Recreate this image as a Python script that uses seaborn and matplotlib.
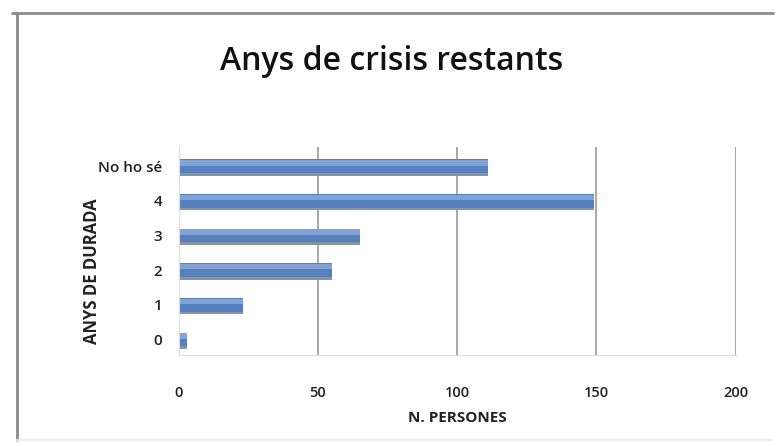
import matplotlib
matplotlib.use("Agg")
import matplotlib.pyplot as plt
import seaborn as sns
import pandas as pd

categories = ["No ho sé", "4", "3", "2", "1", "0"]
persons = [111, 149, 65, 55, 23, 3]
xticks = [0, 50, 100, 150, 200]

sns.set_style("white")
plt.rcParams['font.family'] = ['Open Sans', 'DejaVu Sans']

df = pd.DataFrame({"anys": categories, "persones": persons})

fig = plt.figure(figsize=(7.81, 4.46), dpi=100)
ax = fig.add_axes([0.229, 0.204, 0.713, 0.466])

# layers to fake the shaded excel bars: shadow, body, highlight
layers = [("#8a929c", 0.44, 0.05), ("#5580bd", 0.40, 0.0), ("#7fa3d6", 0.16, -0.10)]
n = 0
for col, w, dy in layers:
    sns.barplot(data=df, x="persones", y="anys", order=categories, orient="h",
                color=col, width=w, ax=ax, saturation=1)
    for p in ax.patches[n:]:
        p.set_y(p.get_y() + dy)
        p.set_edgecolor("none")
    n = len(ax.patches)

ax.set_xlim(0, 200)
ax.set_ylim(5.45, -0.55)
ax.set_xticks(xticks)
ax.set_xticklabels([str(t) for t in xticks])
ax.xaxis.grid(True, color="#a0a0a0", linewidth=1.3)
ax.set_axisbelow(True)
for s in ["top", "right"]:
    ax.spines[s].set_visible(False)
ax.spines["left"].set_color("#dddddd")
ax.spines["bottom"].set_color("#dddddd")
ax.tick_params(axis="y", length=0, labelsize=11, colors="#222222", pad=12)
ax.tick_params(axis="x", length=0, labelsize=10.5, colors="#222222", pad=22)
for lbl in ax.get_xticklabels() + ax.get_yticklabels():
    lbl.set_fontweight("semibold")

ax.set_xlabel("N. PERSONES", fontsize=11, fontweight="bold", color="#222222", labelpad=8)
ax.set_ylabel("ANYS DE DURADA", fontsize=12, fontweight="bold", color="#222222")
ax.yaxis.set_label_coords((101 - 179) / 557, (355 - 271) / 208)

fig.text(0.502, 0.861, "Anys de crisis restants", ha="center", va="center",
         fontsize=23, fontweight="semibold", color="#111111")

# outer frame of the chart
fig.add_artist(plt.Line2D([12 / 781, 773 / 781], [1 - 13 / 446, 1 - 13 / 446],
                          color="#8c8c8c", linewidth=2, transform=fig.transFigure))
fig.add_artist(plt.Line2D([17 / 781, 17 / 781], [1 - 13 / 446, 1 - 440 / 446],
                          color="#8c8c8c", linewidth=2, transform=fig.transFigure))
fig.add_artist(plt.Line2D([17 / 781, 773 / 781], [1 - 440 / 446, 1 - 440 / 446],
                          color="#eeeeee", linewidth=1.5, transform=fig.transFigure))

fig.savefig("out.png", dpi=100)
